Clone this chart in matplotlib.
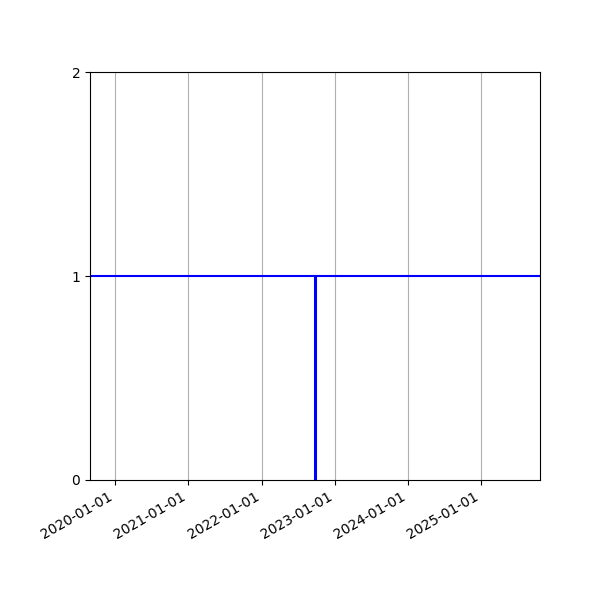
import datetime as dt
import matplotlib
matplotlib.use("Agg")
import matplotlib.pyplot as plt
import matplotlib.dates as mdates

# datos
nivel = 1
fecha_evento = dt.datetime(2022, 9, 26)
valor_evento = 1
x_inicio = dt.datetime(2019, 8, 29)
x_fin = dt.datetime(2025, 10, 22)
ticks_y = [0, 1, 2]

fig, ax = plt.subplots(figsize=(6, 6), dpi=100)

ax.axhline(nivel, color='#0000ff', linewidth=1.5)
ax.vlines(fecha_evento, 0, valor_evento, color='#0000ff', linewidth=2.2)

ax.set_xlim(x_inicio, x_fin)
ax.set_ylim(0, 2)
ax.set_yticks(ticks_y)
ax.xaxis.set_major_locator(mdates.YearLocator())
ax.xaxis.set_major_formatter(mdates.DateFormatter('%Y-%m-%d'))
ax.grid(True, axis='x')

fig.autofmt_xdate()
fig.subplots_adjust(left=0.15, right=0.9, top=0.88, bottom=0.2)
fig.savefig('out.png')
